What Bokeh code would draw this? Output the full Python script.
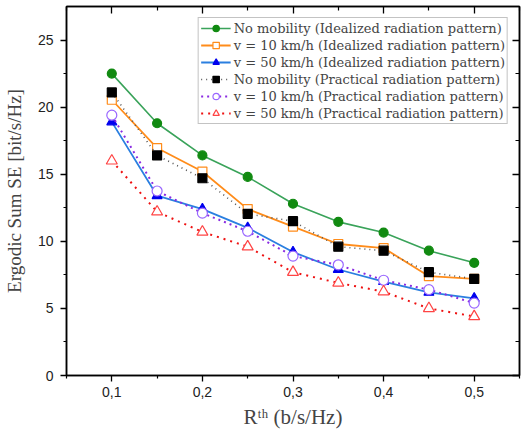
from bokeh.plotting import figure
from bokeh.models import (LinearAxis, FixedTicker, Range1d, Legend, LegendItem)
from bokeh.embed import file_html
from bokeh.resources import INLINE

x_vals = [0.1, 0.15, 0.2, 0.25, 0.3, 0.35, 0.4, 0.45, 0.5]
no_mob_ideal = [22.5, 18.8, 16.4, 14.8, 12.8, 11.45, 10.65, 9.3, 8.4]
v10_ideal = [20.55, 16.95, 15.2, 12.4, 11.1, 9.8, 9.5, 7.4, 7.2]
v50_ideal = [18.9, 13.4, 12.4, 11.0, 9.2, 7.9, 7.0, 6.2, 5.75]
no_mob_prac = [21.1, 16.4, 14.7, 12.05, 11.5, 9.6, 9.3, 7.7, 7.2]
v10_prac = [19.4, 13.75, 12.1, 10.75, 8.9, 8.25, 7.1, 6.4, 5.4]
v50_prac = [16.0, 12.2, 10.7, 9.6, 7.7, 6.9, 6.25, 5.0, 4.4]

labels = [
    "No mobility (Idealized radiation pattern)",
    "v = 10 km/h (Idealized radiation pattern)",
    "v = 50 km/h (Idealized radiation pattern)",
    "No mobility (Practical radiation pattern)",
    "v = 10 km/h (Practical radiation pattern)",
    "v = 50 km/h (Practical radiation pattern)",
]

x_ticks = [0.1, 0.2, 0.3, 0.4, 0.5]
x_tick_labels = ["0,1", "0,2", "0,3", "0,4", "0,5"]
x_minor = [0.05, 0.15, 0.25, 0.35, 0.45, 0.55]
y_ticks = [0, 5, 10, 15, 20, 25]
y_minor = [2.5, 7.5, 12.5, 17.5, 22.5]

SERIF = "Liberation Serif"
SANS = "Liberation Sans"

p = figure(width=521, height=438, output_backend="svg", toolbar_location=None,
           x_range=Range1d(0.05, 0.55), y_range=Range1d(0, 27.5),
           min_border_left=4, min_border_right=2, min_border_top=6,
           min_border_bottom=63, background_fill_color="white",
           border_fill_color="white")
p.grid.visible = False
p.outline_line_color = "black"
p.outline_line_width = 1.5

# main axes
xa = p.xaxis[0]
xa.ticker = FixedTicker(ticks=x_ticks, minor_ticks=x_minor)
xa.major_label_overrides = {t: l for t, l in zip(x_ticks, x_tick_labels)}
xa.axis_label = "Rᵗʰ (b/s/Hz)"
ya = p.yaxis[0]
ya.ticker = FixedTicker(ticks=y_ticks, minor_ticks=y_minor)
ya.axis_label = "Ergodic Sum SE [bit/s/Hz]"
for ax in (xa, ya):
    ax.axis_line_width = 1.5
    ax.major_tick_line_width = 1.3
    ax.minor_tick_line_width = 1.2
    ax.major_tick_in = 0
    ax.major_tick_out = 6
    ax.minor_tick_in = 0
    ax.minor_tick_out = 3
    ax.major_label_text_font = SANS
    ax.major_label_text_font_size = "14px"
    ax.major_label_text_color = "#222222"
    ax.axis_label_text_font = SERIF
    ax.axis_label_text_font_style = "normal"
    ax.axis_label_text_font_size = "19px"
xa.axis_label_text_font_size = "21px"
xa.major_label_standoff = 5
xa.axis_label_standoff = 5
ya.major_label_standoff = 7
ya.axis_label_standoff = 10

# mirrored axes (ticks only)
top = LinearAxis(ticker=FixedTicker(ticks=x_ticks, minor_ticks=x_minor))
right = LinearAxis(ticker=FixedTicker(ticks=y_ticks, minor_ticks=y_minor))
for ax in (top, right):
    ax.axis_line_width = 1.5
    ax.major_tick_in = 7
    ax.major_tick_out = 0
    ax.minor_tick_in = 4
    ax.minor_tick_out = 0
    ax.major_tick_line_width = 1.3
    ax.minor_tick_line_width = 1.2
    ax.major_label_text_font_size = "0px"
    ax.major_label_standoff = 0
    ax.major_label_text_alpha = 0
p.add_layout(top, "above")
p.add_layout(right, "right")

styles = [
    dict(data=no_mob_ideal, lc="#3aa35a", ld="solid", lw=1.6, m="circle", mc="#118a11", mf="#118a11", s=9),
    dict(data=v10_ideal, lc="#ff8c1a", ld="solid", lw=1.8, m="square", mc="#ff8c1a", mf="white", s=9),
    dict(data=v50_ideal, lc="#2a7fe0", ld="solid", lw=1.8, m="triangle", mc="#0000ee", mf="#0000ee", s=10),
    dict(data=no_mob_prac, lc="#555555", ld="1 4", lw=1.6, m="square", mc="black", mf="black", s=9),
    dict(data=v10_prac, lc="#8a2be2", ld="2 4", lw=2.0, m="circle", mc="#9966ff", mf="white", s=10),
    dict(data=v50_prac, lc="#ee1111", ld="2 5", lw=2.0, m="triangle", mc="#ff4444", mf="white", s=11),
]

items = []
for lab, st in zip(labels, styles):
    r1 = p.line(x_vals, st["data"], line_color=st["lc"], line_dash=st["ld"],
                line_width=st["lw"])
    r2 = p.scatter(x_vals, st["data"], marker=st["m"], size=st["s"],
                   line_color=st["mc"], fill_color=st["mf"], line_width=1.2)
    items.append(LegendItem(label=lab, renderers=[r1, r2]))

legend = Legend(items=items, location="top_right")
legend.label_text_font = "DejaVu Serif"
legend.label_text_font_size = "13px"
legend.label_standoff = 3
legend.glyph_width = 30
legend.glyph_height = 16
legend.label_height = 16
legend.spacing = 1
legend.padding = 2
legend.margin = 11
legend.border_line_color = "#888888"
legend.border_line_width = 1.2
legend.background_fill_alpha = 1
p.add_layout(legend, "center")

open("out.html", "w").write(file_html(p, INLINE))
